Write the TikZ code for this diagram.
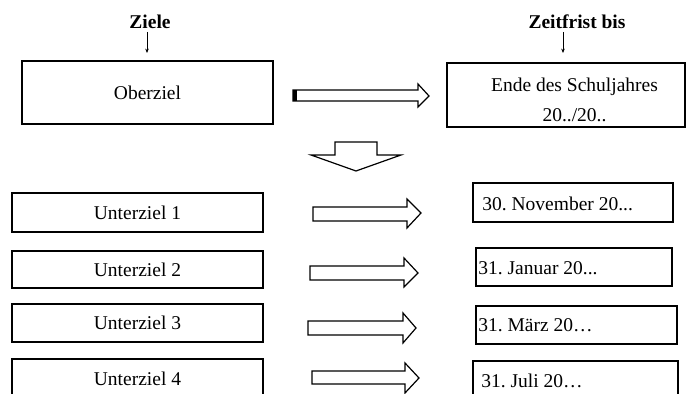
\documentclass[tikz,border=0pt]{standalone}
\usepackage{fontspec}
\setmainfont{Liberation Serif}
\usetikzlibrary{arrows.meta}
\frenchspacing
\tikzset{
  box/.style={draw, line width=0.75pt, inner sep=0pt},
  txt/.style={inner sep=0pt, font=\fontsize{9.75}{12}\selectfont},
  head/.style={inner sep=0pt, font=\fontsize{9.75}{12}\selectfont\bfseries, anchor=base},
  blockarrow/.style={draw, line width=0.6pt, fill=white, line join=miter},
  small/.style={line width=0.4pt, -{Stealth[length=2.2pt,width=1.8pt]}}
}
\begin{document}
\begin{tikzpicture}[x=0.5pt,y=-0.5pt]
\useasboundingbox (0,0) rectangle (686,394);
\clip (0,0) rectangle (686,394);
\fill[white] (0,0) rectangle (686,394);
% headings
\node[head] (ziele) at (150,29) {Ziele};
\node[head] (zeit) at (577,29) {Zeitfrist bis};
\coordinate (za) at (147,53);
\coordinate (zb) at (563,53);
\draw[small] (za |- 0,32) -- (za);
\draw[small] (zb |- 0,32) -- (zb);
% top boxes
\node[box, minimum width=125.5pt, minimum height=31.5pt] (ober) at (147.5,92.5) {};
\node[txt] (obert) at (147.5,92.5) {Oberziel};
\node[box, minimum width=119pt, minimum height=32pt] (ende) at (566,95) {};
\node[txt, anchor=base] (ende1) at (574.5,91.7) {Ende des Schuljahres};
\node[txt, anchor=base] (ende2) at (574.5,121.7) {20../20..};
% top right arrow
\draw[blockarrow] (293,90) -- (418,90) -- (418,84) -- (429,96) -- (418,107) -- (418,101) -- (293,101) -- cycle;
\fill (293,90) rectangle (297,101);
% down arrow
\draw[blockarrow] (335,142) -- (377,142) -- (377,155) -- (401,155) -- (356,171) -- (311,155) -- (335,155) -- cycle;
% sub goals
\node[box, minimum width=125.5pt, minimum height=19.5pt] (u1) at (137.5,212.5) {};
\node[txt] (u1t) at (137.5,212.5) {Unterziel 1};
\node[box, minimum width=125.5pt, minimum height=18.5pt] (u2) at (137.5,269.5) {};
\node[txt] (u2t) at (137.5,269.5) {Unterziel 2};
\node[box, minimum width=125.5pt, minimum height=19pt] (u3) at (137.5,323) {};
\node[txt] (u3t) at (137.5,323) {Unterziel 3};
\node[box, minimum width=125.5pt, minimum height=19.5pt] (u4) at (137.5,378.5) {};
\node[txt] (u4t) at (137.5,378.5) {Unterziel 4};
% date boxes
\node[box, minimum width=100pt, minimum height=19.5pt] (d1) at (573,202.5) {};
\node[txt, anchor=west] (d1t) at (482,203.5) {30. November 20...};
\node[box, minimum width=98pt, minimum height=19pt] (d2) at (574,267) {};
\node[txt, anchor=west] (d2t) at (478,268) {31. Januar 20...};
\node[box, minimum width=100.5pt, minimum height=19pt] (d3) at (576.5,325) {};
\node[txt, anchor=west] (d3t) at (478,325) {31. März 20…};
\node[box, minimum width=102.5pt, minimum height=19.5pt] (d4) at (575.5,380.5) {};
\node[txt, anchor=west] (d4t) at (481,381) {31. Juli 20…};
% row arrows
\draw[blockarrow] (313,207) -- (407,207) -- (407,199) -- (421,213) -- (407,228) -- (407,221) -- (313,221) -- cycle;
\draw[blockarrow] (310,266) -- (404,266) -- (404,258) -- (418,273) -- (404,287) -- (404,280) -- (310,280) -- cycle;
\draw[blockarrow] (308,321) -- (403,321) -- (403,313) -- (416,328) -- (403,343) -- (403,335) -- (308,335) -- cycle;
\draw[blockarrow] (312,371) -- (405,371) -- (405,363) -- (419,378) -- (405,393) -- (405,384) -- (312,384) -- cycle;
\end{tikzpicture}
\end{document}
